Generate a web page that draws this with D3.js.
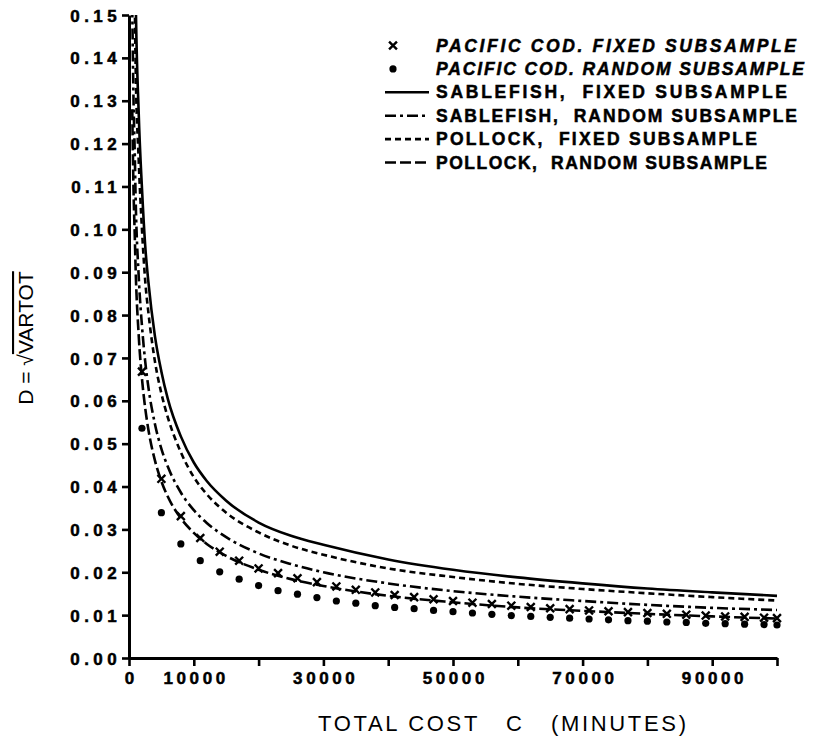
<!DOCTYPE html>
<html>
<head>
<meta charset="utf-8">
<script src="https://cdn.jsdelivr.net/npm/d3@7"></script>
<style>
    body { margin: 0; background: #fff; }
    svg { display: block; }
</style>
</head>
<body>
<svg id="svg" width="813" height="739"></svg>
<script>
var lineCost = [1000, 1500, 2000, 2500, 3000, 4000, 5000, 6000, 8000, 10000, 12000, 15000,
    20000, 25000, 30000, 40000, 50000, 60000, 70000, 80000, 90000, 100000];

var sablefishFixed = [0.158, 0.127, 0.1096, 0.0962, 0.0876, 0.0751, 0.0668, 0.0604, 0.0517, 0.0456, 0.0413, 0.0367,
    0.0316, 0.0285, 0.0264, 0.0230, 0.0206, 0.0188, 0.0174, 0.0162, 0.0153, 0.0145];
var pollockFixed = [0.140, 0.116, 0.100, 0.088, 0.0805, 0.0692, 0.0617, 0.0561, 0.0480, 0.0422, 0.0382, 0.0339,
    0.0293, 0.0262, 0.0241, 0.0209, 0.0189, 0.0173, 0.0161, 0.0151, 0.0142, 0.0134];
var sablefishRandom = [0.109, 0.089, 0.0775, 0.0692, 0.0631, 0.0546, 0.0488, 0.0446, 0.0386, 0.0345, 0.0315, 0.0282,
    0.0244, 0.0219, 0.0200, 0.0174, 0.0156, 0.0143, 0.0133, 0.0124, 0.0117, 0.0112];
var pollockRandom = [0.092, 0.0752, 0.0652, 0.0583, 0.0532, 0.0461, 0.0412, 0.0376, 0.0326, 0.0292, 0.0266, 0.0238,
    0.0206, 0.0184, 0.0168, 0.0145, 0.0130, 0.0118, 0.0110, 0.0103, 0.0097, 0.0092];

// steep start of the curves, above C = 1000
var startCost = [500, 700, 900];
var sablefishFixedStart = [0.30, 0.24, 0.18];
var pollockFixedStart = [0.21, 0.175, 0.152];
var sablefishRandomStart = [0.152, 0.130, 0.117];
var pollockRandomStart = [0.128, 0.109, 0.098];

// pacific cod, plotted as symbols
var codCost = [2000, 5000, 8000, 11000, 14000, 17000, 20000, 23000, 26000, 29000, 32000, 35000,
    38000, 41000, 44000, 47000, 50000, 53000, 56000, 59000, 62000, 65000, 68000, 71000, 74000,
    77000, 80000, 83000, 86000, 89000, 92000, 95000, 98000, 100000];
var codFixed = [0.0668, 0.0418, 0.0331, 0.0280, 0.0248, 0.0227, 0.0209, 0.0198, 0.0186, 0.0177, 0.0167, 0.0159,
    0.0153, 0.0147, 0.0142, 0.0137, 0.0133, 0.0129, 0.0126, 0.0122, 0.0119, 0.0116, 0.0114, 0.0111, 0.0109,
    0.0107, 0.0105, 0.0103, 0.0101, 0.0099, 0.0097, 0.0096, 0.0094, 0.0093];
var codRandom = [0.0536, 0.0339, 0.0266, 0.0227, 0.0201, 0.0184, 0.0169, 0.0157, 0.0149, 0.0141, 0.0133, 0.0128,
    0.0122, 0.0118, 0.0115, 0.0111, 0.0108, 0.0105, 0.0102, 0.0099, 0.0097, 0.0095, 0.0093, 0.0091, 0.0089,
    0.0087, 0.0086, 0.0084, 0.0083, 0.0081, 0.0080, 0.0079, 0.0078, 0.0077];

var xTicks = [0, 10000, 20000, 30000, 40000, 50000, 60000, 70000, 80000, 90000, 100000];
var xTickLabels = [0, 10000, 30000, 50000, 70000, 90000];
var yTicks = [0, 0.01, 0.02, 0.03, 0.04, 0.05, 0.06, 0.07, 0.08, 0.09, 0.10, 0.11, 0.12, 0.13, 0.14, 0.15];

var legendLabels = [
    "PACIFIC COD. FIXED SUBSAMPLE",
    "PACIFIC COD. RANDOM SUBSAMPLE",
    "SABLEFISH,  FIXED SUBSAMPLE",
    "SABLEFISH,  RANDOM SUBSAMPLE",
    "POLLOCK,  FIXED SUBSAMPLE",
    "POLLOCK,  RANDOM SUBSAMPLE"
];

function draw_chart() {
    var svg = d3.select("svg"),
            margin = {top: 15, right: 36, bottom: 81, left: 129},
            width = 813 - margin.left - margin.right,
            height = 739 - margin.top - margin.bottom;

    var g = svg.append("g").attr("transform", "translate(" + margin.left + "," + margin.top + ")");

    var x = d3.scaleLinear().domain([0, 100000]).range([0, width]);
    var y = d3.scaleLinear().domain([0, 0.15]).range([height, 0]);

    g.append("clipPath")
            .attr("id", "plot-clip")
            .append("rect")
            .attr("x", 0).attr("y", 0)
            .attr("width", width + 2).attr("height", height);

    // series for the lines
    var series = [
        {start: sablefishFixedStart, values: sablefishFixed, dash: null},
        {start: sablefishRandomStart, values: sablefishRandom, dash: "11,4,3,4"},
        {start: pollockFixedStart, values: pollockFixed, dash: "6,4"},
        {start: pollockRandomStart, values: pollockRandom, dash: "11,4"}
    ];

    var line = d3.line()
            .curve(d3.curveMonotoneX)
            .x(function (d) { return x(d[0]); })
            .y(function (d) { return y(d[1]); });

    g.append("g")
            .attr("clip-path", "url(#plot-clip)")
            .selectAll("path")
            .data(series)
            .enter().append("path")
            .attr("fill", "none")
            .attr("stroke", "#000")
            .attr("stroke-width", 2.6)
            .attr("stroke-dasharray", function (d) { return d.dash; })
            .attr("d", function (d) {
                var pts = startCost.map(function (c, i) { return [c, d.start[i]]; })
                        .concat(lineCost.map(function (c, i) { return [c, d.values[i]]; }));
                return line(pts);
            });

    // pacific cod fixed: x marks
    var cross = d3.symbol().type(d3.symbolX).size(42);
    g.selectAll(".cod-fixed")
            .data(codCost)
            .enter().append("path")
            .attr("class", "cod-fixed")
            .attr("transform", function (d, i) {
                return "translate(" + x(d) + "," + y(codFixed[i]) + ")";
            })
            .attr("d", cross)
            .attr("fill", "none")
            .attr("stroke", "#000")
            .attr("stroke-width", 2.4);

    // pacific cod random: dots
    g.selectAll(".cod-random")
            .data(codCost)
            .enter().append("circle")
            .attr("class", "cod-random")
            .attr("cx", function (d) { return x(d); })
            .attr("cy", function (d, i) { return y(codRandom[i]); })
            .attr("r", 3.6)
            .attr("fill", "#000");

    // x axis
    var xAxis = g.append("g")
            .attr("transform", "translate(0," + height + ")")
            .call(d3.axisBottom(x)
                    .tickValues(xTicks)
                    .tickSizeInner(8)
                    .tickSizeOuter(0)
                    .tickPadding(6)
                    .tickFormat(function (d) {
                        return xTickLabels.indexOf(d) >= 0 ? d3.format("d")(d) : "";
                    }));

    // y axis
    var yAxis = g.append("g")
            .call(d3.axisLeft(y)
                    .tickValues(yTicks)
                    .tickSizeInner(7)
                    .tickSizeOuter(0)
                    .tickPadding(5)
                    .tickFormat(d3.format(".2f")));

    [xAxis, yAxis].forEach(function (ax) {
        ax.select(".domain").attr("stroke-width", 3);
        ax.selectAll(".tick line").attr("stroke-width", 2.6);
        ax.selectAll("text")
                .attr("fill", "#000")
                .attr("stroke", "#000")
                .attr("stroke-width", 0.5)
                .style("font-family", "'Liberation Sans', Arial, sans-serif")
                .style("font-weight", "bold")
                .style("font-size", "17px");
    });
    xAxis.selectAll("text").style("letter-spacing", "3.6px").attr("dx", "1.8px");
    yAxis.selectAll("text").style("letter-spacing", "4.4px").attr("dx", "4px").attr("dy", "0.36em");

    // axis titles
    svg.append("text")
            .attr("x", 502)
            .attr("y", 731)
            .attr("text-anchor", "middle")
            .attr("textLength", 368)
            .attr("lengthAdjust", "spacing")
            .style("white-space", "pre")
            .style("font-family", "'Liberation Sans', Arial, sans-serif")
            .style("font-size", "22px")
            .text("TOTAL COST   C   (MINUTES)");

    var yTitle = svg.append("text")
            .attr("transform", "translate(33,338) rotate(-90)")
            .attr("text-anchor", "middle")
            .style("font-family", "'Liberation Sans', Arial, sans-serif")
            .style("font-size", "21px")
            .style("white-space", "pre");
    yTitle.append("tspan").text("D = \u221A");
    yTitle.append("tspan")
            .style("text-decoration", "overline")
            .text("VARTOT");

    // legend
    var legend = svg.append("g");
    var rowY = d3.scaleLinear().domain([0, 5]).range([51.5, 168.5]);
    var textLen = [360, 368, 351, 361, 321, 331];

    legend.selectAll("text")
            .data(legendLabels)
            .enter().append("text")
            .attr("x", 436)
            .attr("y", function (d, i) { return rowY(i); })
            .attr("textLength", function (d, i) { return textLen[i]; })
            .attr("lengthAdjust", "spacing")
            .attr("stroke", "#000")
            .attr("stroke-width", 0.5)
            .style("white-space", "pre")
            .style("font-family", "'Liberation Sans', Arial, sans-serif")
            .style("font-weight", "bold")
            .style("font-style", function (d, i) { return i < 2 ? "italic" : "normal"; })
            .style("font-size", "17.5px")
            .text(function (d) { return d; });

    legend.append("path")
            .attr("transform", "translate(393," + (rowY(0) - 6) + ")")
            .attr("d", cross)
            .attr("fill", "none")
            .attr("stroke", "#000")
            .attr("stroke-width", 2.4);

    legend.append("circle")
            .attr("cx", 393)
            .attr("cy", rowY(1) - 6)
            .attr("r", 3.6)
            .attr("fill", "#000");

    legend.selectAll(".legend-line")
            .data(series)
            .enter().append("line")
            .attr("class", "legend-line")
            .attr("x1", 385)
            .attr("x2", 429)
            .attr("y1", function (d, i) { return rowY(i + 2) - 6; })
            .attr("y2", function (d, i) { return rowY(i + 2) - 6; })
            .attr("stroke", "#000")
            .attr("stroke-width", 2.6)
            .attr("stroke-dasharray", function (d) { return d.dash; });
}

draw_chart();
</script>
</body>
</html>
